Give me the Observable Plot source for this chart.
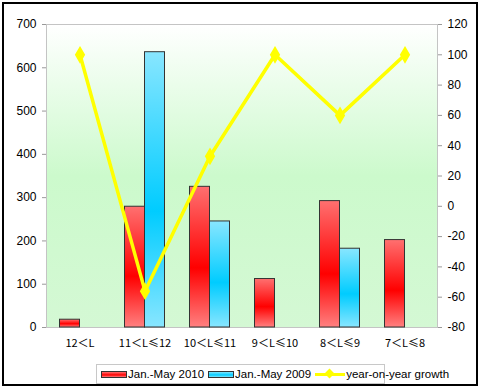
<!DOCTYPE html>
<html><head><meta charset="utf-8">
<script src="https://cdn.jsdelivr.net/npm/d3@7"></script>
<script src="https://cdn.jsdelivr.net/npm/@observablehq/plot@0.6"></script>
<style>
body{margin:0;background:#fff;}
#wrap{position:relative;width:480px;height:389px;overflow:hidden;font-family:"Liberation Sans",Arial,sans-serif;}
#border{position:absolute;left:2px;top:2px;width:476px;height:384px;border:2px solid #000;box-sizing:border-box;}
#chart{position:absolute;left:0;top:0;}
#legend{position:absolute;left:96px;top:364px;width:289px;height:20px;border:1px solid #c8c8c8;box-sizing:border-box;font-size:11.5px;white-space:nowrap;overflow:visible;display:flex;align-items:center;padding-left:4px;color:#000;}
#legend > span{flex:0 0 auto;}
.sw{display:inline-block;width:24px;height:5px;border:1px solid #333;margin-right:1px;}
.ln{display:inline-block;position:relative;width:30px;height:10px;margin:0 1px 0 4px;}
.ln:before{content:"";position:absolute;left:0;right:0;top:4px;height:3px;background:#ffff00;}
.ln:after{content:"";position:absolute;left:11px;top:1px;width:7px;height:7px;background:#ffff00;transform:rotate(45deg);}
.it{margin-right:4px;}
</style>
</head><body>
<div id="wrap">
  <div id="chart"></div>
  <div id="legend">
    <span class="sw" style="background:linear-gradient(#ff7070,#ff0000 60%,#ff8080)"></span><span class="it">Jan.-May 2010</span>
    <span class="sw" style="background:linear-gradient(#80e4ff,#00ccff 60%,#80e4ff)"></span><span>Jan.-May 2009</span>
    <span class="ln"></span><span>year-on-year growth</span>
  </div>
  <div id="border"></div>
</div>
<script>
const categories = ["12＜L","11＜L≤12","10＜L≤11","9＜L≤10","8＜L≤9","7＜L≤8"];
const sales2010 = [18,279,325,112,292,202];
const sales2009 = [0,636,245,0,182,0];
const growth = [100,-56,33,100,60,100];
const leftTicks = [0,100,200,300,400,500,600,700];
const rightTicks = [-80,-60,-40,-20,0,20,40,60,80,100,120];

const leftMax = 700, rMin = -80, rMax = 120;
const toLeft = g => (g - rMin) * leftMax / (rMax - rMin);
const fromLeft = v => Math.round(v * (rMax - rMin) / leftMax + rMin);

const data = categories.map((c,i)=>({cat:c, v2010:sales2010[i], v2009:sales2009[i], g:growth[i]}));

const chart = Plot.plot({
  width:480, height:360,
  marginLeft:46, marginRight:43, marginTop:24, marginBottom:33,
  style:{fontSize:"12px", fontFamily:"'Liberation Sans', Arial, sans-serif", background:"transparent", color:"#000", overflow:"visible"},
  x:{domain:categories, padding:0, axis:null},
  y:{domain:[0,leftMax], axis:null},
  marks:[
    Plot.frame({fill:"url(#bgGrad)", stroke:"#c4c4c4"}),
    Plot.barY(data.filter(d=>d.v2010>0),{x:"cat", y:"v2010", fill:"url(#redGrad)", stroke:"#333", strokeWidth:1, insetLeft:12.5, insetRight:32.5}),
    Plot.barY(data.filter(d=>d.v2009>0),{x:"cat", y:"v2009", fill:"url(#blueGrad)", stroke:"#333", strokeWidth:1, insetLeft:32.5, insetRight:12.5}),
    Plot.line(data,{x:"cat", y:d=>toLeft(d.g), stroke:"#ffff00", strokeWidth:3.5}),
    Plot.dot(data,{x:"cat", y:d=>toLeft(d.g), symbol:"diamond", r:4.5, fill:"#ffff00", stroke:"#ffff00"}),
    Plot.axisY({anchor:"left", ticks:leftTicks, tickSize:4, tickPadding:6, stroke:"#999", label:null}),
    Plot.axisY({anchor:"right", ticks:rightTicks.map(toLeft), tickFormat:fromLeft, tickSize:4, tickPadding:6, stroke:"#999", label:null}),
    Plot.axisX({anchor:"bottom", tickSize:0, tickPadding:12, label:null, fontFamily:"'Noto Sans CJK SC', sans-serif", fontSize:11})
  ]
});
document.getElementById("chart").appendChild(chart);

const svg = d3.select(chart);
const defs = svg.insert("defs", ":first-child");
const bg = defs.append("linearGradient").attr("id","bgGrad").attr("x1",0).attr("y1",0).attr("x2",0).attr("y2",1);
bg.append("stop").attr("offset","0").attr("stop-color","#ffffff");
bg.append("stop").attr("offset","0.5").attr("stop-color","#ccfacc");
bg.append("stop").attr("offset","1").attr("stop-color","#d4f8d4");
const red = defs.append("linearGradient").attr("id","redGrad").attr("x1",0).attr("y1",0).attr("x2",0).attr("y2",1);
red.append("stop").attr("offset","0").attr("stop-color","#ff7070");
red.append("stop").attr("offset","0.58").attr("stop-color","#ff0000");
red.append("stop").attr("offset","1").attr("stop-color","#ff8080");
const blue = defs.append("linearGradient").attr("id","blueGrad").attr("x1",0).attr("y1",0).attr("x2",0).attr("y2",1);
blue.append("stop").attr("offset","0").attr("stop-color","#88e6ff");
blue.append("stop").attr("offset","0.58").attr("stop-color","#00ccff");
blue.append("stop").attr("offset","1").attr("stop-color","#88e6ff");
</script>
</body></html>
